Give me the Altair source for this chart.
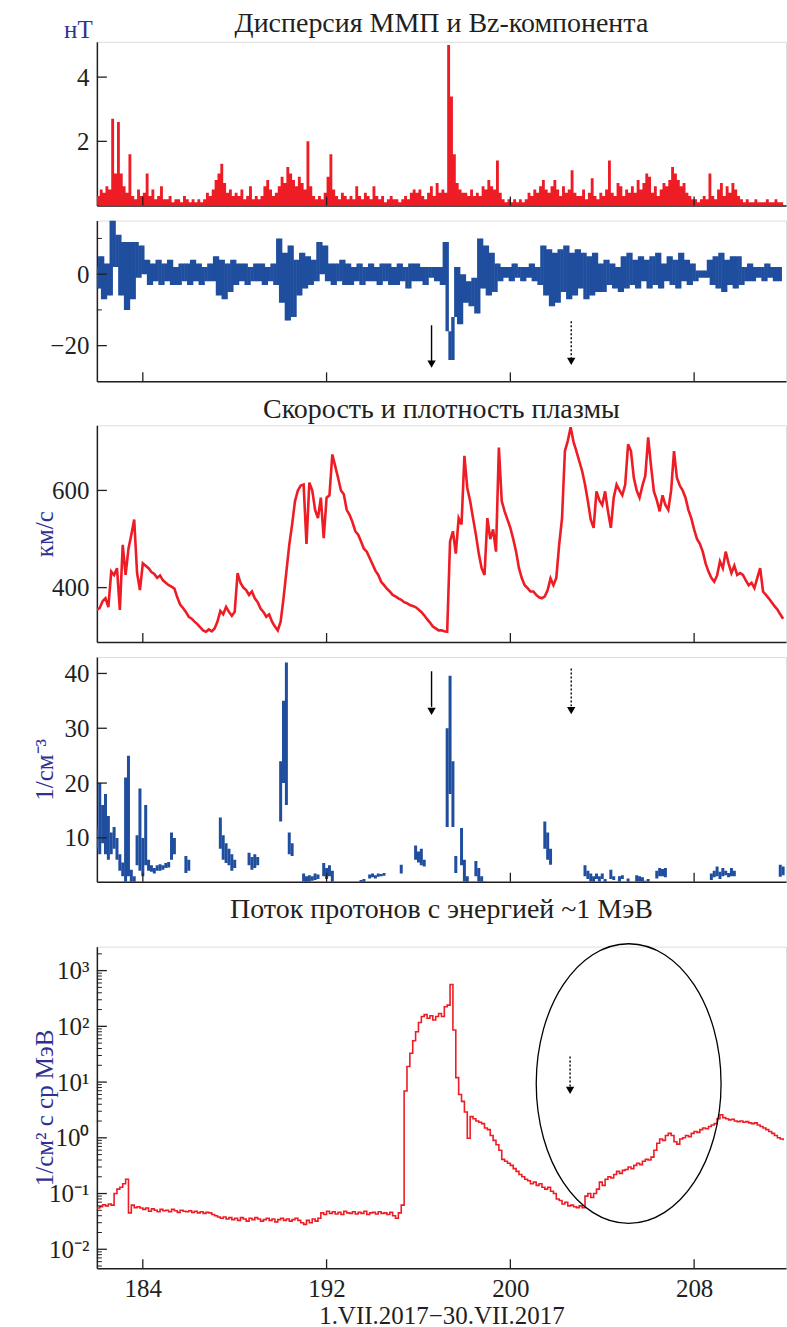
import altair as alt
import pandas as pd

FONT = "Liberation Serif"
RED = "#ee1c25"
BLUE = "#1f4e9e"
TBLUE = "#2e3192"
INK = "#231f20"
W = 690
STEP = 0.125
X0 = 182

# ---- data (3-hour steps starting day 182.0) ----
disp = [
    0.3, 0.5, 0.4, 0.6, 0.5, 2.7, 1.0, 2.6,
    1.0, 0.6, 0.4, 1.6, 0.3, 0.2, 0.5, 0.3,
    0.4, 1.0, 0.3, 0.5, 0.2, 0.3, 0.6, 0.2,
    0.2, 0.3, 0.1, 0.2, 0.2, 0.1, 0.3, 0.2,
    0.1, 0.2, 0.1, 0.2, 0.1, 0.2, 0.4, 0.3,
    0.5, 0.8, 1.0, 1.3, 0.7, 0.4, 0.5, 0.3,
    0.4, 0.3, 0.5, 0.2, 0.3, 0.6, 0.2, 0.3,
    0.2, 0.3, 0.6, 0.8, 0.5, 0.3, 0.4, 0.6,
    0.9, 0.7, 1.2, 1.0, 0.8, 0.6, 0.9, 0.7,
    0.5, 2.0, 0.6, 0.3, 0.2, 0.3, 0.2, 0.4,
    0.9, 1.6, 0.5, 0.3, 0.2, 0.4, 0.3, 0.2,
    0.3, 0.2, 0.6, 0.3, 0.2, 0.4, 0.3, 0.2,
    0.6, 0.3, 0.2, 0.3, 0.1, 0.2, 0.3, 0.2,
    0.2, 0.1, 0.2, 0.3, 0.2, 0.4, 0.5, 0.4,
    0.5, 0.3, 0.2, 0.4, 0.6, 0.3, 0.7, 0.4,
    0.5, 0.4, 5.0, 3.4, 1.6, 0.7, 0.5, 0.4,
    0.4, 0.3, 0.5, 0.3, 0.4, 0.3, 0.6, 0.5,
    0.8, 0.6, 0.5, 1.4, 0.4, 0.2, 0.1, 0.2,
    0.1, 0.2, 0.1, 0.2, 0.1, 0.2, 0.4, 0.3,
    0.5, 0.4, 0.6, 0.8, 0.5, 0.4, 0.6, 0.8,
    0.5, 0.3, 0.6, 0.4, 0.5, 1.1, 0.4, 0.3,
    0.3, 0.5, 0.2, 0.4, 0.85, 0.3, 0.2, 0.4,
    0.3, 0.5, 1.4, 0.4, 0.3, 0.7, 0.6, 0.3,
    0.5, 0.4, 0.6, 0.4, 0.8, 0.5, 0.7, 1.0,
    0.9, 0.4, 0.6, 0.3, 0.5, 0.7, 0.6, 0.8,
    1.2, 1.0, 0.8, 0.6, 0.7, 0.4, 0.3, 0.2,
    0.2, 0.1, 0.2, 0.3, 0.2, 1.0, 0.3, 0.2,
    0.5, 0.7, 0.3, 0.6, 0.4, 0.7, 0.5, 0.3,
    0.2, 0.1, 0.2, 0.1, 0.1, 0.2, 0.1, 0.1,
    0.1, 0.2, 0.1, 0.1, 0.2, 0.1, 0.1, 0.2,
]

bz = [
    2, -4, 5, -7, 3, -6, 15, 2,
    11, -6, 9, -10, 9, -7, 9, -1,
    8, 0, 4, -3, 3, -2, 4, -3,
    3, -2, 4, -3, 2, -3, 3, -2,
    3, -3, 4, -2, 3, -3, 2, -2,
    3, -2, 5, -6, 4, -7, 3, -5,
    4, -3, 3, -2, 3, -3, 2, -2,
    3, -2, 3, -3, 2, -2, 3, -3,
    10, -8, 6, -13, 8, -12, 4, -6,
    6, -4, 5, -3, 4, -2, 9, 0,
    8, -2, 3, -3, 3, -2, 4, -3,
    3, -3, 2, -2, 3, -3, 2, -2,
    3, -2, 2, -3, 3, -2, 3, -3,
    2, -3, 3, -2, 2, -4, 3, -2,
    3, -2, 2, -3, 2, -1, 2, -2,
    2, -3, 9, -16, -24, -12, 2, -14,
    0, -8, -2, -9, -1, -11, 10, -4,
    8, -6, 6, -5, 3, -2, 2, -1,
    2, -2, 3, -1, 2, -2, 2, -1,
    3, -2, 2, -3, 8, -6, 7, -9,
    6, -8, 7, -5, 8, -7, 6, -6,
    7, -4, 6, -7, 5, -6, 6, -5,
    3, -5, 4, -3, 3, -4, 2, -5,
    5, -4, 6, -3, 4, -4, 5, -2,
    4, -4, 5, -3, 6, -4, 3, -2,
    5, -3, 4, -4, 6, -2, 4, -3,
    3, -2, 1, -1, 1, -1, 4, -3,
    5, -4, 6, -5, 4, -3, 5, -4,
    5, -3, 2, -2, 3, -2, 2, -1,
    2, -2, 3, -1, 2, -2, 2, -2,
]

speed = [
    354, 358, 372, 378, 360, 433, 426, 440,
    354, 488, 426, 480, 509, 540, 430, 395,
    450, 445, 440, 432, 428, 420, 425, 415,
    410, 405, 402, 398, 380, 365, 358, 350,
    340, 336, 330, 325, 318, 312, 309, 314,
    310, 316, 330, 352, 345, 360, 350, 342,
    350, 430, 410, 400, 395, 385, 392, 378,
    370, 357, 350, 340, 345, 330, 320, 312,
    330, 378, 433, 488, 530, 578, 600, 610,
    612, 490, 616, 600, 560, 543, 585, 502,
    585, 590, 674, 650, 626, 600, 592, 560,
    550, 535, 516, 509, 495, 480, 474, 461,
    448, 435, 426, 412, 405, 398, 392, 385,
    382, 378, 375, 370, 368, 364, 362, 360,
    355, 350, 343, 335, 328, 320, 316, 312,
    312, 310, 309, 495, 516, 470, 543, 530,
    671, 605, 578, 543, 509, 470, 440, 426,
    543, 500, 520, 474, 688, 578, 557, 540,
    523, 500, 474, 440, 419, 405, 399, 392,
    392, 385, 380, 378, 382, 395, 419, 405,
    420, 488, 543, 681, 702, 730, 700, 681,
    660, 640, 612, 578, 540, 523, 598, 580,
    570, 598, 557, 523, 585, 612, 600, 590,
    612, 695, 681, 626, 600, 585, 610, 630,
    709, 650, 598, 580, 557, 590, 570, 560,
    600, 681, 626, 610, 600, 585, 560, 543,
    520, 500, 490, 474, 450, 433, 420, 412,
    425, 454, 440, 474, 450, 430, 445, 426,
    430, 426, 415, 405, 410, 399, 420, 440,
    392, 385, 378, 370, 362, 355, 345, 336,
]

proton = [
    0.055, 0.058, 0.063, 0.060, 0.065, 0.062, 0.10, 0.12,
    0.13, 0.15, 0.18, 0.045, 0.062, 0.056, 0.058, 0.055,
    0.052, 0.055, 0.048, 0.053, 0.050, 0.047, 0.052, 0.049,
    0.050, 0.047, 0.052, 0.049, 0.046, 0.050, 0.048, 0.047,
    0.049, 0.046, 0.048, 0.045, 0.047, 0.044, 0.046, 0.045,
    0.042, 0.040, 0.038, 0.036, 0.038, 0.035, 0.037, 0.034,
    0.036, 0.033, 0.037, 0.035, 0.032, 0.036, 0.034, 0.037,
    0.035, 0.032, 0.034, 0.036, 0.033, 0.035, 0.031, 0.034,
    0.036, 0.033, 0.035, 0.032, 0.034, 0.036, 0.033, 0.030,
    0.028, 0.033, 0.030, 0.035, 0.032, 0.036, 0.045, 0.042,
    0.048, 0.044, 0.047, 0.043, 0.046, 0.042, 0.048, 0.045,
    0.044, 0.047, 0.043, 0.046, 0.044, 0.048, 0.042, 0.045,
    0.046, 0.043, 0.047, 0.044, 0.045, 0.042, 0.046, 0.040,
    0.036, 0.045, 0.062, 6.9, 19, 33, 55, 80,
    117, 150, 162, 140, 155, 130, 150, 170,
    150, 224, 240, 565, 86, 12, 6.0, 4.5,
    2.9, 0.98, 2.4, 2.2, 2.0, 1.9, 1.8, 1.5,
    1.4, 1.1, 0.9, 0.75, 0.6, 0.41, 0.38, 0.35,
    0.32, 0.28, 0.25, 0.22, 0.20, 0.18, 0.17, 0.15,
    0.16, 0.14, 0.15, 0.13, 0.12, 0.13, 0.11, 0.10,
    0.08, 0.075, 0.065, 0.07, 0.06, 0.062, 0.058, 0.056,
    0.06, 0.056, 0.09, 0.10, 0.085, 0.10, 0.12, 0.16,
    0.14, 0.18, 0.20, 0.19, 0.22, 0.25, 0.23, 0.26,
    0.27, 0.30, 0.28, 0.32, 0.35, 0.33, 0.38, 0.41,
    0.40, 0.45, 0.60, 0.80, 0.95, 0.90, 1.1, 1.2,
    1.1, 0.85, 0.77, 0.95, 1.0, 1.1, 1.05, 1.2,
    1.3, 1.25, 1.4, 1.5, 1.45, 1.6, 1.7, 1.8,
    2.2, 2.6, 2.3, 2.2, 2.1, 2.15, 2.0, 1.95,
    2.0, 1.9, 1.95, 1.85, 1.8, 1.85, 1.7, 1.6,
    1.5, 1.4, 1.3, 1.2, 1.1, 1.0, 0.95, 0.9,
]

dens_day = [
    182.0, 182.125, 182.25, 182.375, 182.5, 182.625, 182.75, 182.875,
    183.0, 183.125, 183.25, 183.375, 183.5, 183.625, 183.75, 183.875,
    184.0, 184.125, 184.25, 184.375, 184.5, 184.625, 184.75, 184.875,
    185.0, 185.125, 185.25, 185.375, 185.875, 186.0,
    187.375, 187.5, 187.625, 187.75, 187.875, 188.0,
    188.625, 188.75, 188.875, 189.0,
    190.0, 190.125, 190.25, 190.375, 190.5,
    191.0, 191.125, 191.25, 191.375, 191.5, 191.625, 191.875, 192.0, 192.125, 192.25,
    193.5, 193.625, 193.875, 194.0, 194.125, 194.25, 194.375, 194.5,
    195.25, 195.875, 196.0, 196.125, 196.25,
    197.25, 197.375, 197.5, 197.625, 197.875, 198.0, 198.125,
    198.5, 198.625, 198.75, 198.875,
    201.5, 201.625, 201.75,
    203.25, 203.375, 203.5, 203.625, 203.75, 203.875, 204.0, 204.125,
    204.375, 204.5, 204.75, 204.875, 205.125, 205.5, 205.625, 205.75, 205.875, 206.0,
    206.375, 206.5, 206.625, 206.75,
    208.75, 208.875, 209.0, 209.125, 209.25, 209.375, 209.5, 209.625, 209.75,
    211.75, 211.875,
]
dens_lo = [
    8, 7, 9, 7, 6, 7, 8, 6,
    4, 3, 2, 3, 1.3, 1.5, 5, 4,
    3, 5, 4, 3.8, 3.5, 4, 4, 4.2,
    4.5, 4.6, 6, 7, 3.6, 4,
    8, 6, 5.4, 5, 4, 4.5,
    5, 4.2, 4.5, 5,
    13, 20, 16, 7, 6.7,
    2, 1.7, 2, 2.2, 2.3, 2.5, 3, 2.5, 3, 1.7,
    1.3, 1.8, 2.6, 2.8, 2.6, 2.9, 3, 3.1,
    3.5, 6, 5.5, 5, 4.8,
    12, 18, 12, 3.6, 5, 2, 1.7,
    3, 2, 1.5, 1,
    8, 6, 5.1,
    3, 2.5, 2, 1.7, 2.5, 2, 2.5, 1.7,
    2.5, 2.3, 2, 2.5, 1.7, 2, 2, 1.8, 1.3, 1.5,
    2.6, 3, 3, 2.8,
    2.3, 2.8, 3, 2.5, 3, 3.2, 2.8, 3, 3,
    2.9, 3.2,
]
dens_hi = [
    12, 20, 16, 18, 14, 11, 12, 10,
    7, 5.5, 21, 25, 4.2, 3, 10.5, 19,
    10, 16, 6, 5, 4.5, 5, 5.2, 5,
    5.4, 5.6, 11, 10, 6.7, 6,
    13.7, 10.5, 9, 8, 7, 6,
    7.3, 6.5, 7, 6.5,
    24, 35, 42, 11, 9,
    3.5, 3, 3.2, 3, 3.5, 3.3, 5.4, 4.5, 5, 4,
    2.3, 2.5, 3.3, 3.5, 3.2, 3.5, 3.4, 3.6,
    5.1, 8.6, 7.5, 8, 6,
    30, 39.6, 24, 6.7, 11.8, 6, 3,
    5.8, 4.5, 3, 2,
    13, 11, 8,
    5, 4, 3.5, 3, 3.5, 3, 3.5, 2.5,
    4.2, 3, 3, 3.2, 2.6, 3.2, 3, 2.8, 2.2, 2.5,
    4, 4.5, 4.3, 4.5,
    3.5, 4, 4.8, 3.8, 4.5, 4, 3.6, 4.5, 4,
    5.1, 4.8,
]

xtick_vals = [184, 192, 200, 208]
x_title = "1.VII.2017\u221230.VII.2017"

# annotation arrows (day, start value, end value, head value)
bz_arrow_solid = {"day": [196.57], "y1": [-14.3], "y2": [-24.3], "yh": [-25.2]}
bz_arrow_dash = {"day": [202.65], "y1": [-13.2], "y2": [-23.5], "yh": [-24.4]}
dn_arrow_solid = {"day": [196.57], "y1": [40.4], "y2": [33.9], "yh": [33.1]}
dn_arrow_dash = {"day": [202.65], "y1": [40.9], "y2": [34.0], "yh": [33.2]}
pr_arrow_dash = {"day": [202.6], "y1": [28.8], "y2": [8.3], "yh": [7.1]}
ellipse = {"day": [205.15], "y": [9.4]}

days = [X0 + i * STEP for i in range(len(speed))]
series = pd.DataFrame({"day": days, "disp": disp, "bz": bz, "speed": speed, "proton": proton})
# Bz band: span between each reading and the next one
bz_next = series["bz"].shift(-1).fillna(series["bz"])
series["bz_lo"] = series["bz"].where(series["bz"] < bz_next, bz_next)
series["bz_hi"] = series["bz"].where(series["bz"] > bz_next, bz_next)
dens = pd.DataFrame({"day": dens_day, "lo": dens_lo, "hi": dens_hi})

xs = alt.Scale(domain=[182, 212], nice=False, zero=False)

LABEL_SIZE = 25
TITLE_SIZE = 28
YTITLE_SIZE = 25


def xaxis(show):
    if show:
        return alt.Axis(values=xtick_vals, labels=True, ticks=False, grid=False,
                        labelFont=FONT, labelFontSize=LABEL_SIZE, labelPadding=8, labelColor=INK,
                        title=x_title, titleFont=FONT, titleFontSize=LABEL_SIZE,
                        titleFontWeight="normal", titleColor=INK, titlePadding=2,
                        domainColor=INK, domainWidth=1.5)
    return alt.Axis(labels=False, ticks=False, grid=False, title=None,
                    domainColor=INK, domainWidth=1.5)


def yaxis(values, title=None, h=100, horiz=False, label_expr=None):
    kw = dict(values=values, ticks=False, grid=False, labelFont=FONT, labelFontSize=LABEL_SIZE,
              labelColor=INK, labelPadding=8, domainColor=INK, domainWidth=1.5,
              titleFont=FONT, titleFontSize=YTITLE_SIZE, titleFontWeight="normal",
              titleColor=TBLUE)
    if label_expr:
        kw["labelExpr"] = label_expr
    if title is None:
        kw["title"] = None
    elif horiz:
        kw.update(title=title, titleAngle=0, titleX=-19, titleY=-12,
                  titleAlign="center", titleBaseline="middle")
    else:
        kw.update(title=title, titleAngle=270, titleX=-52, titleY=h / 2,
                  titleAlign="center", titleBaseline="middle")
    return alt.Axis(**kw)


def tick_layers(h, ys, ya, xa, major, minor=None):
    layers = []
    layers.append(
        alt.Chart(pd.DataFrame({"t": xtick_vals})).mark_rule(color=INK, strokeWidth=1.3).encode(
            x=alt.X("t:Q", scale=xs, axis=xa), y=alt.value(h), y2=alt.value(h - 9)))
    layers.append(
        alt.Chart(pd.DataFrame({"v": major})).mark_rule(color=INK, strokeWidth=1.3).encode(
            y=alt.Y("v:Q", scale=ys, axis=ya), x=alt.value(0), x2=alt.value(10)))
    if minor:
        layers.append(
            alt.Chart(pd.DataFrame({"v": minor})).mark_rule(color=INK, strokeWidth=1).encode(
                y=alt.Y("v:Q", scale=ys, axis=ya), x=alt.value(0), x2=alt.value(5)))
    return layers


def arrow(d, ys, ya, xa, dashed):
    df = pd.DataFrame(d)
    mk = dict(color="black", strokeWidth=1.4)
    if dashed:
        mk["strokeDash"] = [2, 2]
    line = alt.Chart(df).mark_rule(**mk).encode(
        x=alt.X("day:Q", scale=xs, axis=xa), y=alt.Y("y1:Q", scale=ys, axis=ya), y2="y2:Q")
    head = alt.Chart(df).mark_point(shape="triangle-down", filled=True, color="black",
                                    size=70, opacity=1).encode(
        x=alt.X("day:Q", scale=xs, axis=xa), y=alt.Y("yh:Q", scale=ys, axis=ya))
    return [line, head]


TITLE_KW = dict(font=FONT, fontSize=TITLE_SIZE, fontWeight="normal", color=INK, offset=1,
                anchor="middle", frame="group")

# ---- panel 1: dispersion ----
h1 = 164
ys1 = alt.Scale(domain=[0, 5.1], nice=False, zero=False)
ya1 = yaxis([2, 4], "нТ", h1, horiz=True)
xa1 = xaxis(False)
p1_main = alt.Chart(series).mark_area(color=RED, interpolate="step-after", clip=True).encode(
    x=alt.X("day:Q", scale=xs, axis=xa1), y=alt.Y("disp:Q", scale=ys1, axis=ya1))
p1_title = dict(TITLE_KW, offset=-2, dy=18)
p1 = alt.layer(p1_main, *tick_layers(h1, ys1, ya1, xa1, [2, 4])).properties(
    width=W, height=h1, title=alt.Title("Дисперсия ММП и Bz-компонента", **p1_title))

# ---- panel 2: Bz ----
h2 = 161
ys2 = alt.Scale(domain=[-30, 15], nice=False, zero=False)
ya2 = yaxis([0, -20], None, h2)
xa2 = xaxis(False)
p2_main = alt.Chart(series).mark_rule(color=BLUE, strokeWidth=3.4, clip=True).encode(
    x=alt.X("day:Q", scale=xs, axis=xa2), y=alt.Y("bz_lo:Q", scale=ys2, axis=ya2),
    y2="bz_hi:Q")
p2 = alt.layer(p2_main, *tick_layers(h2, ys2, ya2, xa2, [0, -20], [10, -10]),
               *arrow(bz_arrow_solid, ys2, ya2, xa2, False),
               *arrow(bz_arrow_dash, ys2, ya2, xa2, True)).properties(width=W, height=h2)

# ---- panel 3: speed ----
h3 = 217
ys3 = alt.Scale(domain=[288, 734], nice=False, zero=False)
ya3 = yaxis([400, 600], "км/с", h3)
xa3 = xaxis(False)
p3_main = alt.Chart(series).mark_line(color=RED, strokeWidth=2.6, clip=True).encode(
    x=alt.X("day:Q", scale=xs, axis=xa3), y=alt.Y("speed:Q", scale=ys3, axis=ya3))
p3 = alt.layer(p3_main, *tick_layers(h3, ys3, ya3, xa3, [400, 600])).properties(
    width=W, height=h3, title=alt.Title("Скорость и плотность плазмы", **TITLE_KW))

# ---- panel 4: density ----
h4 = 225
ys4 = alt.Scale(domain=[2, 43], nice=False, zero=False)
ya4 = yaxis([10, 20, 30, 40], "1/см⁻³", h4)
xa4 = xaxis(False)
p4_main = alt.Chart(dens).mark_rule(color=BLUE, strokeWidth=3, clip=True).encode(
    x=alt.X("day:Q", scale=xs, axis=xa4), y=alt.Y("lo:Q", scale=ys4, axis=ya4), y2="hi:Q")
p4 = alt.layer(p4_main, *tick_layers(h4, ys4, ya4, xa4, [10, 20, 30, 40]),
               *arrow(dn_arrow_solid, ys4, ya4, xa4, False),
               *arrow(dn_arrow_dash, ys4, ya4, xa4, True)).properties(width=W, height=h4)

# ---- panel 5: protons ----
h5 = 322
P_LO, P_HI = 0.00457, 2692
ys5 = alt.Scale(type="log", domain=[P_LO, P_HI], nice=False)
lab5 = ("datum.value >= 500 ? '10³' : datum.value >= 50 ? '10²' : datum.value >= 5 ? '10¹' : "
        "datum.value >= 0.5 ? '10⁰' : datum.value >= 0.05 ? '10⁻¹' : '10⁻²'")
major5 = [0.01, 0.1, 1, 10, 100, 1000]
minor5 = [m * 10.0 ** e for e in range(-3, 4) for m in range(2, 10)
          if P_LO < m * 10.0 ** e < P_HI]
ya5 = yaxis(major5, "1/см² с ср МэВ", h5, label_expr=lab5)
xa5 = xaxis(True)
p5_main = alt.Chart(series).mark_line(color=RED, strokeWidth=1.6, interpolate="step-after",
                                      clip=True).encode(
    x=alt.X("day:Q", scale=xs, axis=xa5), y=alt.Y("proton:Q", scale=ys5, axis=ya5))
ell_path = "M 0 -1 A 0.661 1 0 1 1 0 1 A 0.661 1 0 1 1 0 -1 Z"
p5_ell = alt.Chart(pd.DataFrame(ellipse)).mark_point(
    shape=ell_path, size=78400, filled=False, stroke="black", strokeWidth=1.3, opacity=1).encode(
    x=alt.X("day:Q", scale=xs, axis=xa5), y=alt.Y("y:Q", scale=ys5, axis=ya5))
p5_title = dict(TITLE_KW, offset=17)
p5 = alt.layer(p5_main, *tick_layers(h5, ys5, ya5, xa5, major5, minor5), p5_ell,
               *arrow(pr_arrow_dash, ys5, ya5, xa5, True)).properties(
    width=W, height=h5, title=alt.Title("Поток протонов с энергией ~1 МэВ", **p5_title))

chart = alt.vconcat(p1, p2, p3, p4, p5, spacing=12).properties(
    padding={"left": 32, "top": 8, "right": 0, "bottom": 0}
).configure_view(stroke=None).configure(background="white")

chart.save("out.html", embed_options={"renderer": "svg", "actions": False})
